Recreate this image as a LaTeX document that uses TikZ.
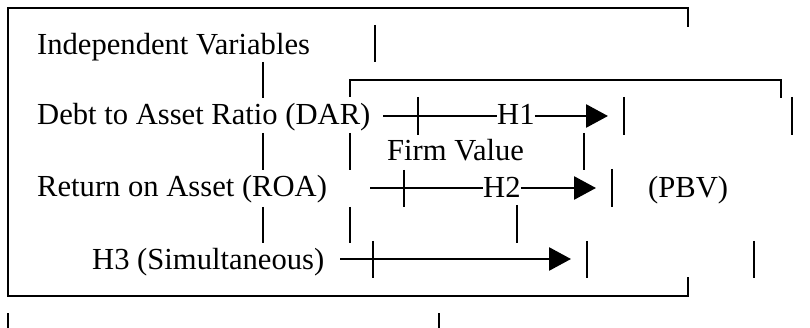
\documentclass[tikz,border=0pt]{standalone}
\usepackage{fontspec}
\setmainfont{Liberation Serif}
\usetikzlibrary{arrows.meta}
\begin{document}
\begin{tikzpicture}[x=1pt,y=-1pt,
  ln/.style={line width=2.8pt},
  lbl/.style={anchor=base west, inner sep=0pt, font=\fontsize{30.6}{36}\selectfont},
  arr/.style={ln,-{Triangle[length=22pt,width=23pt]}}]
\useasboundingbox (0,0) rectangle (810,328);
% outer box
\draw[ln] (688,27) -- (688,8) -- (8,8) -- (8,296) -- (688,296) -- (688,277);
% inner box fragment
\draw[ln] (350,97) -- (350,80) -- (781,80) -- (781,98);
% labels
\node[lbl] (iv) at (37,55) {Independent Variables};
\node[lbl] (dar) at (37,125) {Debt to Asset Ratio (DAR)};
\node[lbl] (roa) at (37,197) {Return on Asset (ROA)};
\node[lbl] (h3) at (92,270) {H3 (Simultaneous)};
\node[lbl] (fv) at (387,161) {Firm Value};
\node[lbl] (pbv) at (648,198) {(PBV)};
\node[lbl] (h1) at (497,125) {H1};
\node[lbl] (h2) at (483,198) {H2};
% connector ends
\coordinate (s1) at (383,116);
\coordinate (t1) at (608,116);
\coordinate (s2) at (370,188);
\coordinate (t2) at (596,188);
\coordinate (s3) at (340,259);
\coordinate (t3) at (571,259);
% H1
\draw[ln] (s1) -- (s1 -| h1.west);
\draw[arr] (t1 -| h1.east) -- (t1);
% H2
\draw[ln] (s2) -- (s2 -| h2.west);
\draw[arr] (t2 -| h2.east) -- (t2);
% H3
\draw[arr] (s3) -- (t3);
% vertical fragments
\foreach \x/\a/\b in {375/25/62, 263/62/98, 263/133/170, 263/207/243,
  350/133/170, 350/207/243, 418/97/135, 404/170/207, 373/241/278,
  584/133/170, 624/97/135, 792/97/135, 612/169/207, 517/205/243,
  587/241/278, 754/241/278, 8/313/328, 439/313/328}
  \draw[ln] (\x,\a) -- (\x,\b);
\end{tikzpicture}
\end{document}
